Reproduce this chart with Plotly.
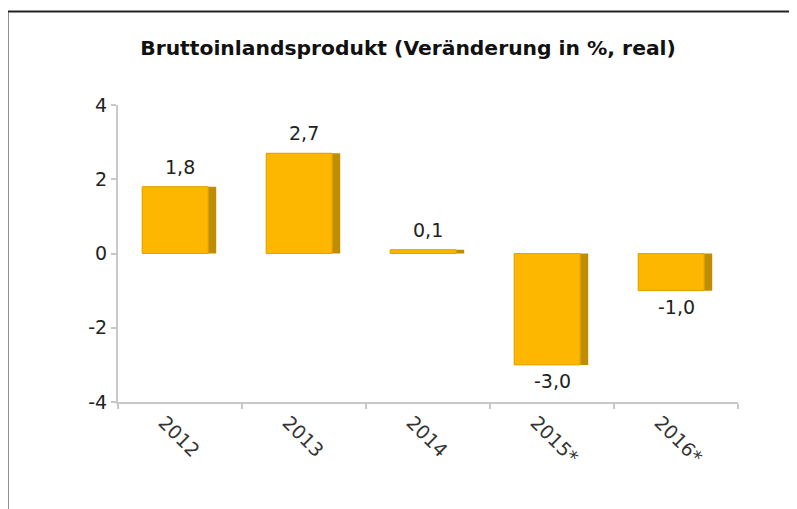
import plotly.graph_objects as go

years = ["2012", "2013", "2014", "2015*", "2016*"]
values = [1.8, 2.7, 0.1, -3.0, -1.0]
labels = ["1,8", "2,7", "0,1", "-3,0", "-1,0"]
y_ticks = [-4, -2, 0, 2, 4]
y_tick_text = ["-4", "-2", "0", "2", "4"]

FACE = "#FDB700"
EDGE = "#E2A400"
SHADOW = "#C18D00"
FONT = "DejaVu Sans"

fig = go.Figure()
# shadow (3D side)
fig.add_trace(go.Bar(
    x=years, y=values, width=0.597, offset=-0.305,
    marker=dict(color=SHADOW, line=dict(width=0)),
    hoverinfo="skip", showlegend=False,
))
# face
fig.add_trace(go.Bar(
    x=years, y=values, width=0.532, offset=-0.305,
    marker=dict(color=FACE, line=dict(color=EDGE, width=1)),
    showlegend=False,
))

annotations = []
for i, (v, lab) in enumerate(zip(values, labels)):
    pos = v >= 0
    annotations.append(dict(
        x=i, y=v, xref="x", yref="y", text=lab, showarrow=False,
        xanchor="center", xshift=0,
        yanchor="bottom" if pos else "top", yshift=7 if pos else -3,
        font=dict(family=FONT, size=19, color="#222222"),
    ))

OFF = 8  # page offset of the figure
W, H = 797, 509
L, R, T, B = 118 - OFF, W - (738 - OFF), 105 - OFF, H - (402 - OFF)
pw, ph = W - L - R, H - T - B
def px(x):
    return (x - OFF - L) / pw
def py(y):
    return (H - B - (y - OFF)) / ph

fig.update_layout(
    width=W, height=H,
    margin=dict(l=L, r=R, t=T, b=B),
    paper_bgcolor="white", plot_bgcolor="white",
    barmode="overlay",
    separators=",.",
    font=dict(family=FONT, size=19, color="#222222"),
    title=dict(
        text="<b>Bruttoinlandsprodukt (Veränderung in %, real)</b>",
        x=(408 - OFF) / W, xanchor="center", y=1 - (48 - OFF) / H, yanchor="middle",
        font=dict(family=FONT, size=20.3, color="#111111"),
    ),
    xaxis=dict(
        type="category", showgrid=False, zeroline=False,
        showline=True, linecolor="#c8c8c8", linewidth=2,
        ticks="outside", ticklen=5, tickcolor="#c8c8c8", tickwidth=2,
        tickson="boundaries", tickangle=45, ticklabelshift=-16,
        tickfont=dict(family=FONT, size=19, color="#333333"),
        range=[-0.5, 4.5],
    ),
    yaxis=dict(
        range=[-4, 4], tickvals=y_ticks, ticktext=y_tick_text,
        showgrid=False, zeroline=False,
        showline=True, linecolor="#c8c8c8", linewidth=2,
        ticks="outside", ticklen=5, tickcolor="#c8c8c8", tickwidth=2,
        tickfont=dict(family=FONT, size=19, color="#222222"),
    ),
    annotations=annotations,
    shapes=[
        dict(type="line", xref="paper", yref="paper",
             x0=px(7.5), x1=px(7.5), y0=py(11.5), y1=py(530),
             line=dict(color="#222222", width=2)),
        dict(type="line", xref="paper", yref="paper",
             x0=px(6.5), x1=px(820), y0=py(11.5), y1=py(11.5),
             line=dict(color="#222222", width=2)),
    ],
)

fig.write_html("out.html")
